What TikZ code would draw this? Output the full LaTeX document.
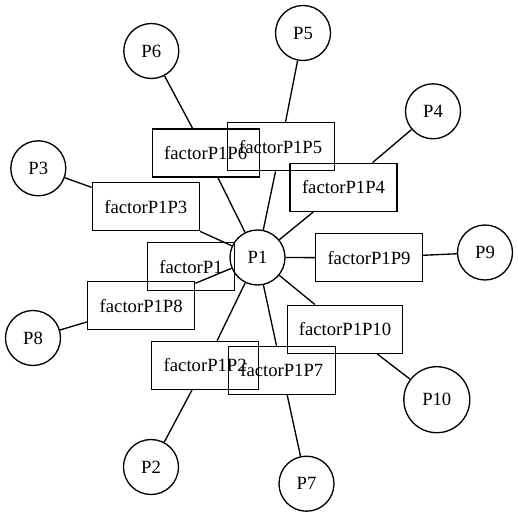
\documentclass[tikz,border=0pt]{standalone}
\usepackage{fontspec}
\setmainfont{Liberation Serif}
\begin{document}
\begin{tikzpicture}[x=0.75pt,y=-0.75pt,
  every node/.style={font=\fontsize{14}{16}\selectfont, line width=1pt, inner sep=0pt},
  pnode/.style={draw, circle, minimum size=41.25pt},
  bignode/.style={draw, circle, minimum size=49.5pt},
  fbox/.style={draw, rectangle, minimum width=80.25pt, minimum height=36pt},
  link/.style={draw, line width=1pt}]
\useasboundingbox (0,0) rectangle (518,517);

% variable nodes
\node[pnode] (P1) at (257.5,257.5) {P1};
\node[pnode] (P2) at (151,467) {P2};
\node[pnode] (P3) at (38.3,168.3) {P3};
\node[pnode] (P4) at (433,111.3) {P4};
\node[pnode] (P5) at (303,33) {P5};
\node[pnode] (P6) at (151.3,51) {P6};
\node[pnode] (P7) at (306.5,483.7) {P7};
\node[pnode] (P8) at (33,338) {P8};
\node[pnode] (P9) at (485,252.5) {P9};
\node[bignode] (P10) at (436.8,399.7) {P10};

% factor nodes
\node[fbox, minimum width=65pt] (F1) at (191,266.7) {factorP1};
\node[fbox] (F2) at (205.2,365.2) {factorP1P2};
\node[fbox] (F3) at (145.8,206.7) {factorP1P3};
\node[fbox] (F4) at (343.5,187.3) {factorP1P4};
\node[fbox] (F5) at (280.7,146.7) {factorP1P5};
\node[fbox] (F6) at (205.7,153) {factorP1P6};
\node[fbox] (F7) at (281.8,370.3) {factorP1P7};
\node[fbox] (F8) at (141.2,305.8) {factorP1P8};
\node[fbox] (F9) at (369,257.7) {factorP1P9};
\node[fbox, minimum width=86pt] (F10) at (345,329.2) {factorP1P10};

% edges
\foreach \k in {2,...,10} {
  \path[link] (P1) -- (F\k);
  \path[link] (F\k) -- (P\k);
}
\end{tikzpicture}
\end{document}
